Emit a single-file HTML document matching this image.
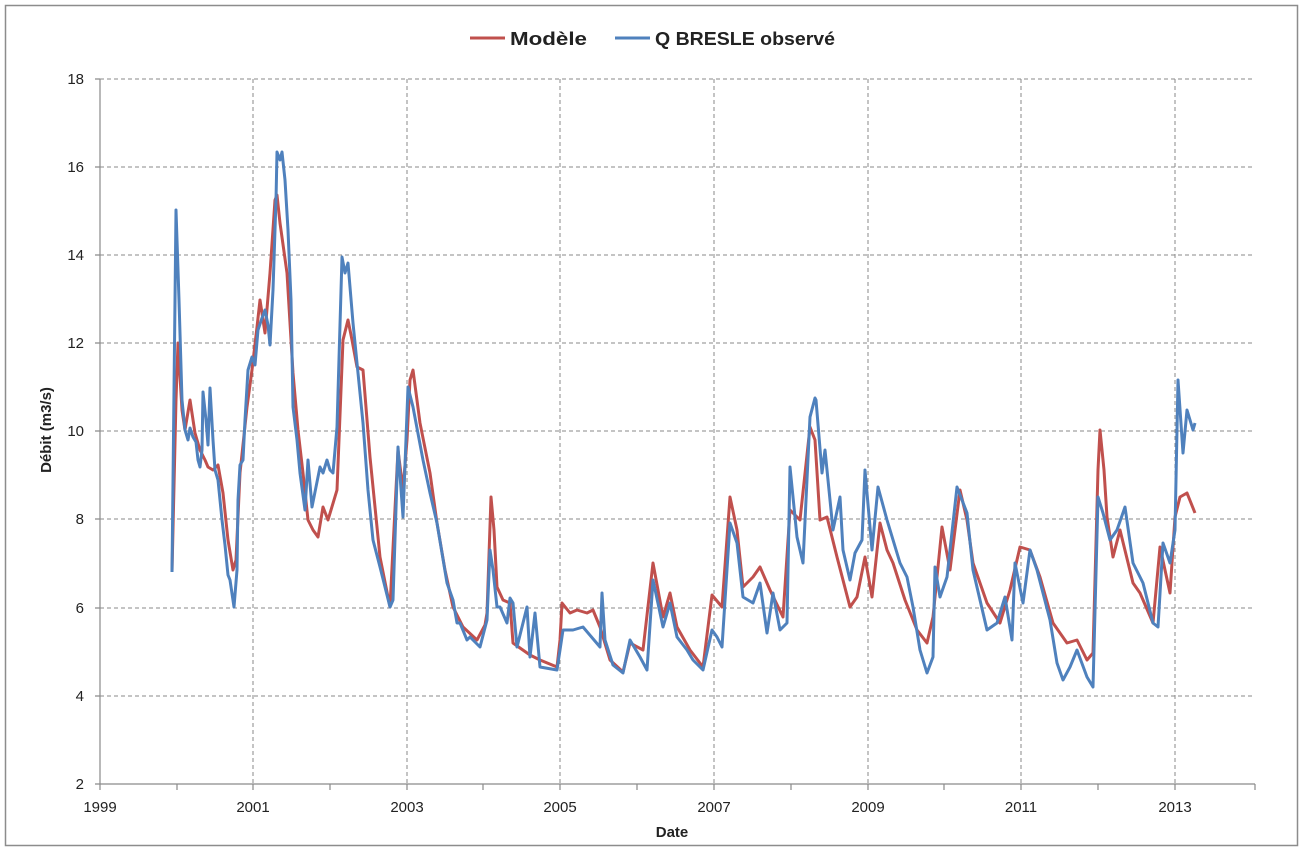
<!DOCTYPE html>
<html><head><meta charset="utf-8"><style>
html,body{margin:0;padding:0;background:#fff;}
svg{display:block;font-family:"Liberation Sans",sans-serif;}
</style></head><body>
<svg width="1304" height="852" viewBox="0 0 1304 852">
<rect x="5.5" y="5.5" width="1292" height="840" fill="#fff" stroke="#8c8c8c" stroke-width="1.5"/>
<g stroke="#8a8a8a" stroke-width="1" stroke-dasharray="4,3" fill="none">
<line x1="100" y1="79" x2="1255" y2="79"/>
<line x1="100" y1="167" x2="1255" y2="167"/>
<line x1="100" y1="255" x2="1255" y2="255"/>
<line x1="100" y1="343" x2="1255" y2="343"/>
<line x1="100" y1="431" x2="1255" y2="431"/>
<line x1="100" y1="519" x2="1255" y2="519"/>
<line x1="100" y1="608" x2="1255" y2="608"/>
<line x1="100" y1="696" x2="1255" y2="696"/>
<line x1="253" y1="79" x2="253" y2="784"/>
<line x1="407" y1="79" x2="407" y2="784"/>
<line x1="560" y1="79" x2="560" y2="784"/>
<line x1="714" y1="79" x2="714" y2="784"/>
<line x1="868" y1="79" x2="868" y2="784"/>
<line x1="1021" y1="79" x2="1021" y2="784"/>
<line x1="1175" y1="79" x2="1175" y2="784"/>
</g>
<g stroke="#8a8a8a" stroke-width="1.2" fill="none">
<line x1="100" y1="79" x2="100" y2="784"/>
<line x1="100" y1="784" x2="1255" y2="784"/>
<path d="M95 79h5M95 167h5M95 255h5M95 343h5M95 431h5M95 519h5M95 608h5M95 696h5M95 784h5"/>
<path d="M100 784v6M177 784v6M253 784v6M330 784v6M407 784v6M483 784v6M560 784v6M637 784v6M714 784v6M791 784v6M868 784v6M944 784v6M1021 784v6M1098 784v6M1175 784v6M1255 784v6"/>
</g>
<g font-size="15" fill="#222" text-anchor="end">
<text x="84" y="84">18</text><text x="84" y="172">16</text><text x="84" y="260">14</text>
<text x="84" y="348">12</text><text x="84" y="436">10</text><text x="84" y="524">8</text>
<text x="84" y="613">6</text><text x="84" y="701">4</text><text x="84" y="789">2</text>
</g>
<g font-size="15" fill="#222" text-anchor="middle">
<text x="100" y="812">1999</text><text x="253" y="812">2001</text><text x="407" y="812">2003</text>
<text x="560" y="812">2005</text><text x="714" y="812">2007</text><text x="868" y="812">2009</text>
<text x="1021" y="812">2011</text><text x="1175" y="812">2013</text>
</g>
<text x="672" y="837" font-size="15" font-weight="bold" text-anchor="middle" fill="#222">Date</text>
<text transform="translate(51,430) rotate(-90)" font-size="15" font-weight="bold" text-anchor="middle" fill="#222">Débit (m3/s)</text>
<line x1="470" y1="38" x2="505" y2="38" stroke="#C0504D" stroke-width="3"/>
<text x="510" y="45" font-size="18" font-weight="bold" fill="#222" textLength="77" lengthAdjust="spacingAndGlyphs">Modèle</text>
<line x1="615" y1="38" x2="650" y2="38" stroke="#4F81BD" stroke-width="3"/>
<text x="655" y="45" font-size="18" font-weight="bold" fill="#222" textLength="180" lengthAdjust="spacingAndGlyphs">Q BRESLE observé</text>

<polyline fill="none" stroke="#C0504D" stroke-width="3" stroke-linejoin="round" points="
172,572 176,400 178,343 182,410 185,430 190,400 195,433 200,450 205,460 208,467 213,470 218,465 223,493 228,540 233,570 236,560 240,473 247,407 252,370 257,327 260,300 265,333 270,273 275,200 277,195 280,223 287,273 293,373 298,430 303,473 308,520 313,530 318,537 323,507 328,520 337,490 343,340 348,320 352,340 357,367 363,370 370,457 380,557 390,607 398,450 403,490 407,440 410,380 413,370 420,423 430,473 437,523 445,570 453,607 463,627 477,640 485,625 487,613 491,497 494,530 497,587 503,600 510,603 513,643 520,648 530,655 540,660 557,667 560,640 562,603 570,613 577,610 587,613 593,610 600,627 610,660 623,672 630,643 643,650 653,563 663,617 670,593 677,627 690,650 703,667 712,595 722,607 730,497 737,530 743,587 753,577 760,567 770,590 783,617 790,510 800,520 810,427 815,440 820,520 827,517 837,557 850,607 857,597 865,557 872,597 880,523 887,550 893,563 905,600 917,630 927,643 933,617 942,527 950,570 960,490 967,520 973,563 987,603 1000,623 1010,590 1020,547 1030,550 1040,577 1053,623 1067,643 1077,640 1087,660 1093,653 1098,470 1100,430 1104,470 1107,517 1113,557 1120,530 1133,583 1140,593 1153,623 1160,547 1170,593 1175,517 1180,497 1187,493 1195,513"/>

<polyline fill="none" stroke="#4F81BD" stroke-width="3" stroke-linejoin="round" points="
172,572 176,210 179,300 182,400 185,430 188,440 190,428 193,437 196,442 198,460 200,467 202,450 203,392 206,420 208,445 210,388 213,440 215,470 218,480 220,500 222,520 225,545 228,575 230,580 234,607 237,570 238,500 240,465 243,460 245,420 248,370 252,357 255,365 258,330 262,318 265,310 268,325 270,345 273,290 276,200 277,152 280,160 282,152 285,180 288,230 291,300 293,407 297,440 300,473 305,510 308,460 312,507 320,467 323,473 327,460 330,470 333,473 337,427 342,257 345,273 348,263 353,323 358,373 363,423 368,490 373,540 380,567 390,607 393,600 398,447 403,517 408,387 413,407 423,460 430,493 437,523 447,583 453,600 457,623 460,623 467,640 470,637 480,647 487,620 490,550 493,570 497,607 500,607 507,623 510,598 513,603 517,647 527,607 530,657 535,613 540,667 557,670 563,630 573,630 583,627 600,647 602,593 605,640 613,665 623,673 630,640 640,657 647,670 653,580 663,627 670,603 677,637 687,650 693,660 703,670 712,630 717,637 722,647 730,523 737,543 743,597 753,603 760,583 767,633 773,593 780,630 787,623 790,467 797,537 803,563 810,417 815,398 816,400 822,473 825,450 833,530 840,497 843,550 850,580 855,553 862,540 865,470 872,550 878,487 887,520 900,563 907,577 913,607 920,650 927,673 933,657 935,567 940,597 947,577 957,487 967,513 973,570 987,630 997,623 1005,597 1012,640 1015,563 1023,603 1030,550 1037,570 1050,620 1057,663 1063,680 1070,667 1077,650 1087,677 1093,687 1098,497 1103,513 1110,540 1117,530 1125,507 1133,563 1143,583 1153,623 1158,627 1163,543 1170,563 1175,530 1178,380 1183,453 1187,410 1193,430 1195,423"/>
</svg>
</body></html>
